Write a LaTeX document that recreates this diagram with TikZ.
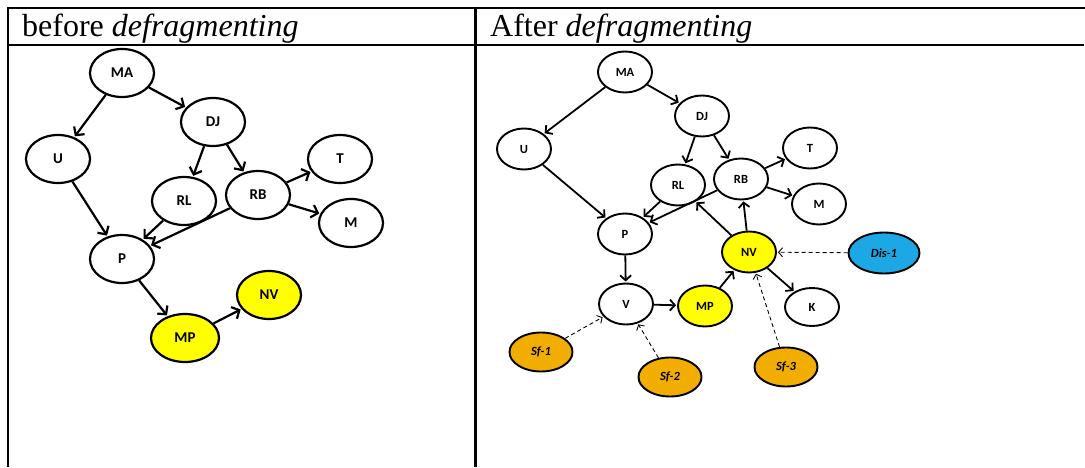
\documentclass[tikz,border=0pt]{standalone}
\usepackage{fontspec}
\setmainfont{Liberation Serif}
\newfontfamily\labelfont{Carlito}
\usetikzlibrary{arrows.meta,shapes.geometric}

\definecolor{nvyellow}{RGB}{255,255,0}
\definecolor{sforange}{RGB}{242,174,0}
\definecolor{disblue}{RGB}{28,168,228}

\tikzset{
    before/.style={ellipse, draw, line width=2.2pt, inner sep=0pt,
        minimum width=64pt, minimum height=48pt,
        font=\labelfont\bfseries\fontsize{15}{15}\selectfont},
    after/.style={ellipse, draw, line width=1.9pt, inner sep=0pt,
        minimum width=54pt, minimum height=41pt,
        font=\labelfont\bfseries\fontsize{12.5}{12.5}\selectfont},
    source/.style={minimum width=63pt, minimum height=39pt,
        font=\labelfont\bfseries\itshape\fontsize{12.5}{12.5}\selectfont},
    changed/.style={fill=nvyellow},
    sf/.style={source, fill=sforange},
    dis/.style={source, fill=disblue, minimum width=71pt, minimum height=41pt},
    rule/.style={line width=2.5pt},
    head/.style={anchor=base west, inner sep=0pt, font=\fontsize{32}{32}\selectfont},
    thickarrow/.style={line width=2.2pt, -{Straight Barb[length=6pt,width=13pt]}},
    thinarrow/.style={line width=1.8pt, -{Straight Barb[length=5pt,width=11pt]}},
    feed/.style={line width=0.9pt, dash pattern=on 4pt off 3pt,
        -{Straight Barb[length=4pt,width=9pt]}}
}

\begin{document}
\begin{tikzpicture}[
        x=1pt, y=-1pt,
        shorten >=1pt
        ]
        \useasboundingbox (0,0) rectangle (1085,468);

        % table frame
        \draw[rule] (1085,8) -- (8,8) -- (8,468);
        \draw[rule] (8,45) -- (1085,45);
        \draw[rule] (475.5,8) -- (475.5,468);
        \node (headbefore) [head] at (22,37) {before \textit{defragmenting}};
        \node (headafter) [head] at (490,37) {After \textit{defragmenting}};

        % left: graph before defragmenting
        \node (ma) [before] at (122,73) {MA};
        \node (dj) [before] at (213,122) {DJ};
        \node (u) [before] at (58,159) {U};
        \node (t) [before] at (340,159) {T};
        \node (rl) [before] at (184,201) {RL};
        \node (rb) [before] at (258,195) {RB};
        \node (m) [before] at (351,223) {M};
        \node (p) [before] at (122,259) {P};
        \node (nv) [before, changed] at (269,295) {NV};
        \node (mp) [before, changed, minimum width=68pt] at (185,338) {MP};

        \path[thickarrow]
        (ma)    edge []     (u)
        (ma)    edge []     (dj)
        (dj)    edge []     (rl)
        (dj)    edge []     (rb)
        (u)     edge []     (p)
        (rl)    edge []     (p)
        (rb)    edge []     (p)
        (rb)    edge []     (t)
        (rb)    edge []     (m)
        (p)     edge []     (mp)
        (mp)    edge []     (nv)
        ;

        % right: graph after defragmenting
        \node (ma2) [after] at (625,72) {MA};
        \node (dj2) [after] at (702,116) {DJ};
        \node (u2) [after] at (524,149) {U};
        \node (t2) [after] at (810,148) {T};
        \node (rl2) [after] at (678,185) {RL};
        \node (rb2) [after] at (741,179) {RB};
        \node (m2) [after] at (819,204) {M};
        \node (p2) [after] at (625,234) {P};
        \node (nv2) [after, changed] at (749,252) {NV};
        \node (v2) [after] at (626,304) {V};
        \node (mp2) [after, changed] at (705,306) {MP};
        \node (k2) [after, minimum height=38pt] at (812,307) {K};
        \node (dis1) [after, dis] at (884,253) {Dis-1};
        \node (sf1) [after, sf] at (541,352) {Sf-1};
        \node (sf2) [after, sf] at (670,377) {Sf-2};
        \node (sf3) [after, sf] at (786,367) {Sf-3};

        \path[thinarrow]
        (ma2)   edge []     (u2)
        (ma2)   edge []     (dj2)
        (dj2)   edge []     (rl2)
        (dj2)   edge []     (rb2)
        (u2)    edge []     (p2)
        (rl2)   edge []     (p2)
        (rb2)   edge []     (p2)
        (rb2)   edge []     (t2)
        (rb2)   edge []     (m2)
        (p2)    edge []     (v2)
        (v2)    edge []     (mp2)
        (mp2)   edge []     (nv2)
        (nv2)   edge []     (rb2)
        (nv2)   edge []     (rl2)
        (nv2)   edge []     (k2)
        ;

        % dashed feeds into the graph
        \path[feed]
        (dis1)  edge []     (nv2)
        (sf1)   edge []     (v2)
        (sf2)   edge []     (v2)
        (sf3)   edge []     (nv2)
        ;
    \end{tikzpicture}
\end{document}
